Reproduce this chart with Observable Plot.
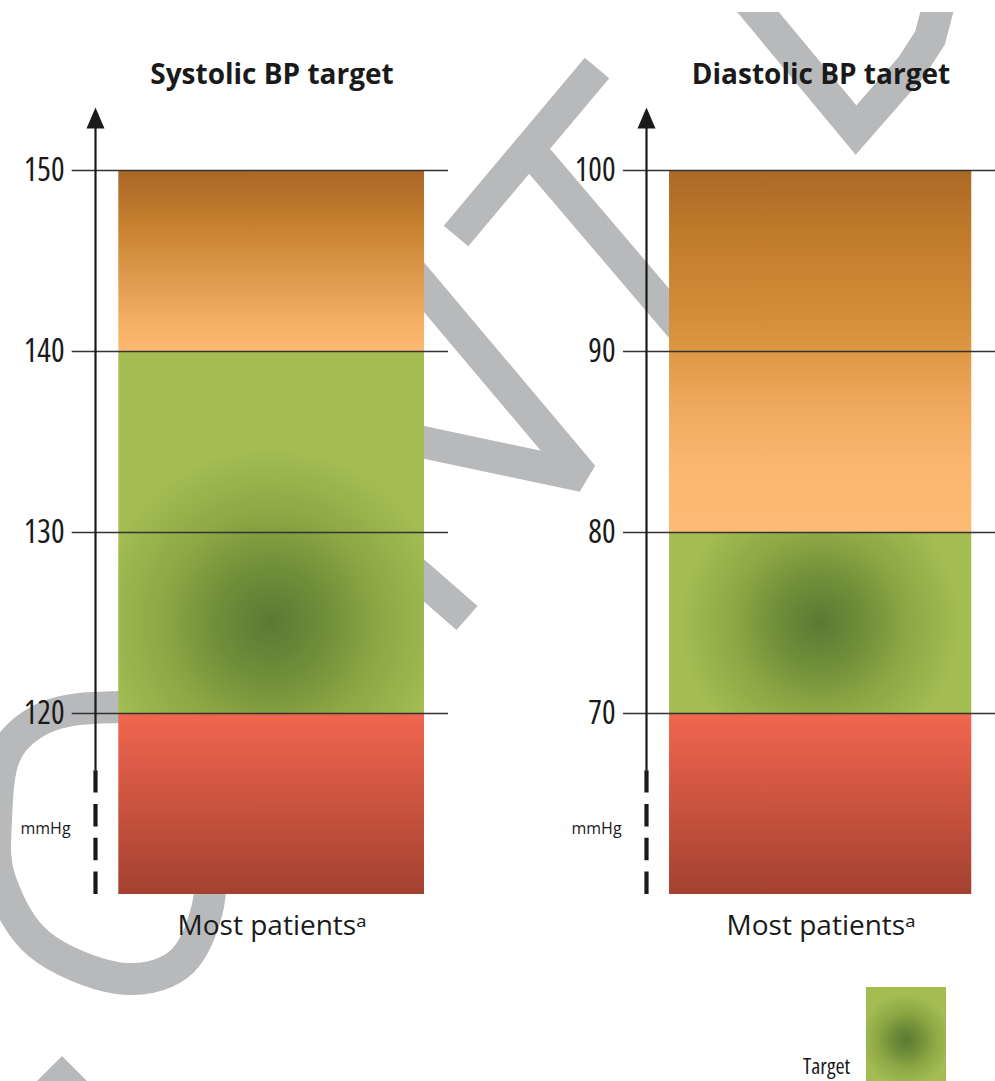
<!DOCTYPE html>
<html>
<head>
<meta charset="utf-8">
<script src="https://cdn.jsdelivr.net/npm/d3@7"></script>
<script src="https://cdn.jsdelivr.net/npm/@observablehq/plot@0.6"></script>
<style>
  html, body { margin: 0; padding: 0; background: #fff; }
  #page { position: relative; width: 995px; height: 1081px; overflow: hidden; font-family: "Open Sans", "Noto Sans", sans-serif; color: #1a1a1a; }
  #wm { position: absolute; left: 0; top: 0; }
  #charts { position: absolute; left: 0; top: 0; display: flex; }
  #charts svg { display: block; }
  #legend-label { position: absolute; left: 803px; top: 1054px; font-size: 22px; font-stretch: 80%; line-height: 1; }
  #legend-swatch { position: absolute; left: 866px; top: 987px; width: 80px; height: 110px; }
</style>
</head>
<body>
<div id="page">
  <svg id="wm" width="995" height="1081"></svg>
  <div id="charts"></div>
  <div id="legend-label"></div>
  <div id="legend-swatch"></div>
</div>
<script>
// ---------------- data ----------------
const zones = ["Below target", "Target", "Above target"];
const systolicFrom = [110, 120, 140];
const systolicTo = [120, 140, 150];
const diastolicFrom = [60, 70, 80];
const diastolicTo = [70, 80, 100];
const systolicTicks = [120, 130, 140, 150];
const diastolicTicks = [70, 80, 90, 100];
const systolicTargetCentre = 125;
const diastolicTargetCentre = 75;
const panelTitles = ["Systolic BP target", "Diastolic BP target"];
const xLabel = "Most patients\u1D43";
const unitLabel = "mmHg";
const legendLabel = "Target";

// ---------------- styles ----------------
const gradients = {
  sys: {
    "above-target": [[0, "#aa6628"], [0.3, "#c6802e"], [0.6, "#e09a4e"], [0.85, "#f5b066"], [1, "#fdb972"]],
    "below-target": [[0, "#f2664f"], [1, "#a34130"]]
  },
  dia: {
    "above-target": [[0, "#ab6826"], [0.2, "#c27d2b"], [0.45, "#d8913c"], [0.65, "#efa95e"], [0.82, "#fbb770"], [1, "#fdba74"]],
    "below-target": [[0, "#f2664f"], [1, "#a34130"]]
  }
};
const targetStops = [[0, "#5c7934"], [0.3, "#6f8d39"], [0.62, "#8ca744"], [1, "#a3bd53"]];
const slug = s => s.toLowerCase().replace(/\s+/g, "-");

const H = 960, MT = 170, MB = 66;
const barX1 = 0.066, barX2 = 0.932, gridX1 = -0.066;
const arrowHead = {
  draw(ctx) { ctx.moveTo(0, 0); ctx.lineTo(9, 21); ctx.lineTo(-9, 21); ctx.closePath(); }
};

function panel({key, title, from, to, ticks, centre, width, marginLeft, marginRight, glowR}) {
  const rows = zones.map((zone, i) => ({zone, y1: from[i], y2: to[i]}));
  const lo = d3.min(from), hi = d3.max(to);
  const unitPx = (H - MB - MT) / (hi - lo);
  const dashTop = lo + 123.8 / unitPx;
  const arrowTip = hi + 63 / unitPx;
  const ink = "#1a1a1a";
  const plot = Plot.plot({
    width, height: H, marginTop: MT, marginBottom: MB, marginLeft, marginRight,
    x: {domain: [0, 1], axis: null},
    y: {domain: [lo, hi], axis: null},
    style: {background: "transparent", fontFamily: "'Open Sans', 'Noto Sans', sans-serif", color: ink, overflow: "visible"},
    marks: [
      ...zones.map(z => Plot.rect(rows.filter(r => r.zone === z), {
        x1: () => barX1, x2: () => barX2, y1: "y1", y2: "y2", fill: `url(#${key}-${slug(z)})`
      })),
      Plot.ruleY(ticks, {x1: () => gridX1, x2: () => 1, stroke: "#333", strokeWidth: 1.5}),
      Plot.ruleX([{a: dashTop, b: hi + 2.5}], {x: () => 0, y1: "a", y2: "b", stroke: ink, strokeWidth: 2.2}),
      Plot.ruleX([{a: lo, b: dashTop}], {x: () => 0, y1: "a", y2: "b", stroke: ink, strokeWidth: 4.2, strokeDasharray: "22.5,11.3"}),
      Plot.dot([{v: arrowTip}], {x: () => 0, y: "v", symbol: arrowHead, fill: ink, stroke: "none"}),
      Plot.text(ticks, {x: () => 0, y: d => d, text: d => String(d), dx: -31, textAnchor: "end", fontSize: 32, fill: ink}),
      Plot.text([unitLabel], {x: () => 0, y: () => lo + 3.6, text: d => d, dx: -50, fontSize: 16, fill: ink}),
      Plot.text([title], {frameAnchor: "top", text: d => d, dy: -106, fontSize: 28, fontWeight: "bold", fill: ink}),
      Plot.text([xLabel], {frameAnchor: "bottom", text: d => d, dy: 40, fontSize: 28, fill: ink})
    ]
  });
  const svg = d3.select(plot);
  // condensed digits for the tick labels
  const tickStrings = ticks.map(String);
  svg.selectAll("text").filter(function() { return tickStrings.includes(this.textContent); })
    .style("font-stretch", "80%");
  // gradient definitions (colour ramps for each zone)
  const defs = svg.insert("defs", ":first-child");
  for (const [name, stops] of Object.entries(gradients[key])) {
    const g = defs.append("linearGradient").attr("id", `${key}-${name}`)
      .attr("x1", 0).attr("y1", 0).attr("x2", 0).attr("y2", 1);
    for (const [o, c] of stops) g.append("stop").attr("offset", o).attr("stop-color", c);
  }
  const sx = plot.scale("x"), sy = plot.scale("y");
  const cx = sx.apply((barX1 + barX2) / 2), cy = sy.apply(centre);
  const rg = defs.append("radialGradient").attr("id", `${key}-target`)
    .attr("gradientUnits", "userSpaceOnUse")
    .attr("cx", cx).attr("cy", cy).attr("fx", cx).attr("fy", cy).attr("r", glowR);
  for (const [o, c] of targetStops) rg.append("stop").attr("offset", o).attr("stop-color", c);
  return plot;
}

const charts = document.getElementById("charts");
charts.append(panel({key: "sys", title: panelTitles[0], from: systolicFrom, to: systolicTo, ticks: systolicTicks,
  centre: systolicTargetCentre, width: 497, marginLeft: 95, marginRight: 49, glowR: 175}));
charts.append(panel({key: "dia", title: panelTitles[1], from: diastolicFrom, to: diastolicTo, ticks: diastolicTicks,
  centre: diastolicTargetCentre, width: 498, marginLeft: 149, marginRight: 0, glowR: 140}));

// legend
document.getElementById("legend-label").textContent = legendLabel;
document.getElementById("legend-swatch").style.background =
  "radial-gradient(circle at 40px 53px, #5c7934 0px, #6f8d39 13px, #8ca744 28px, #a3bd53 46px)";

// ---------------- background watermark (decoration, not data) ----------------
const wm = d3.select("#wm");
wm.append("clipPath").attr("id", "wmclip").append("rect").attr("x", 0).attr("y", 12).attr("width", 995).attr("height", 1081);
const wg = wm.append("g").attr("clip-path", "url(#wmclip)").attr("fill", "none").attr("stroke", "#b8b9bb")
  .attr("stroke-width", 32).attr("stroke-linejoin", "miter").attr("stroke-miterlimit", 10);
const line = d3.line();
const strokes = [
  [[456, 236], [597, 68]],
  [[530, 150], [760, 420]],
  [[380, 542], [467, 618]],
  [[748, 0], [856, 130], [912, 66], [930, 38], [940, 0]]
];
for (const s of strokes) wg.append("path").attr("d", line(s));
wg.append("path").attr("d", line([[380, 235], [583, 476], [380, 433]])).attr("stroke-linejoin", "bevel");
const ring = [[160, 715], [93, 708], [40, 720], [5, 755], [-4, 820], [0, 880], [39, 944], [117, 978], [178, 965], [207, 910], [208, 850], [195, 775]];
wg.append("path").attr("d", d3.line().curve(d3.curveCardinalClosed)(ring));
wm.append("path").attr("d", "M62,1056L37,1081L87,1081Z").attr("fill", "#b8b9bb");
</script>
</body>
</html>
